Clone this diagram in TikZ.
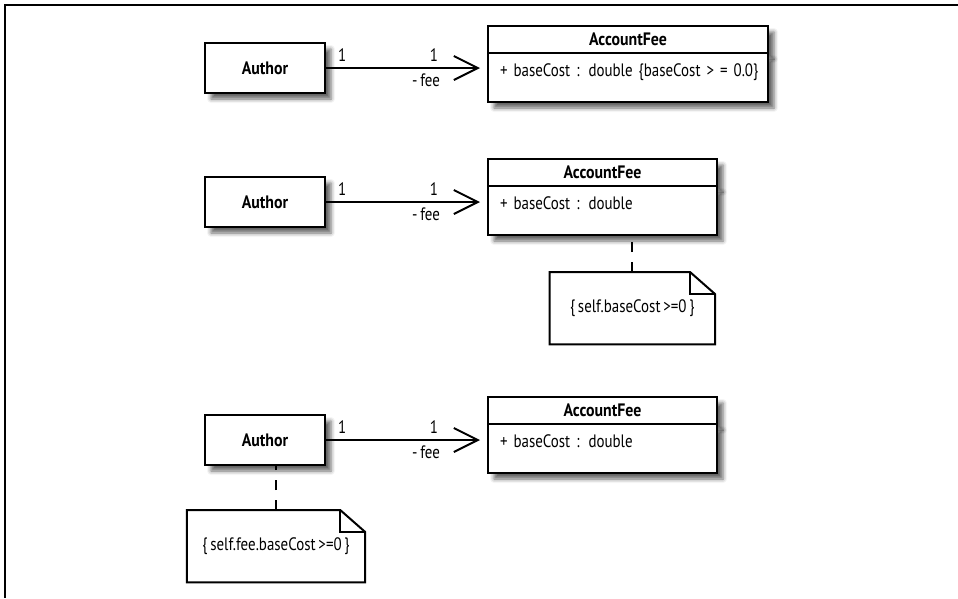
\documentclass[tikz,border=0pt]{standalone}
\usepackage{fontspec}
\setmainfont[FakeStretch=0.83,WordSpace=0.7,BoldFeatures={FakeStretch=0.88}]{PT Sans}
\usetikzlibrary{arrows.meta,positioning,shadows.blur}

\begin{document}
\begin{tikzpicture}[x=1pt,y=-1pt,font=\fontsize{18}{21}\selectfont,
  cls/.style={draw,line width=2pt,outer sep=0pt,fill=white,
    blur shadow={shadow xshift=6pt,shadow yshift=-6pt,shadow blur radius=4pt,shadow opacity=60}},
  author/.style={cls,minimum width=120pt,minimum height=50pt,font=\fontsize{18}{21}\selectfont\bfseries},
  hdr/.style={cls,minimum height=27pt,inner sep=0pt,font=\fontsize{18}{21}\selectfont\bfseries},
  attr/.style={cls,inner xsep=12pt,inner ysep=3pt,text height=20pt,text depth=23pt,align=left},
  note/.style={minimum height=72pt,inner sep=2pt},
  assoc/.style={line width=2pt,-{Straight Barb[length=24pt,width=24pt]},shorten >=8pt},
  anchorline/.style={line width=2pt,dash pattern=on 10pt off 10pt},
  lbl/.style={inner sep=2pt}]
  \useasboundingbox (0,0) rectangle (958,598);
  \draw[line width=2pt] (958,5) -- (5,5) -- (5,598);

  % authors
  \node[author,anchor=north west] (a1) at (205,43) {Author};
  \node[author,anchor=north west] (a2) at (205,177) {Author};
  \node[author,anchor=north west] (a3) at (205,415) {Author};

  % AccountFee classes
  \node[hdr,minimum width=280pt,anchor=north west] (fee1) at (488,26) {AccountFee};
  \node[attr,text width=256pt,below=0pt of fee1] (attr1) {\mbox{+ baseCost : double \{baseCost > = 0.0\}}};
  \node[hdr,minimum width=229pt,anchor=north west] (fee2) at (488,159) {AccountFee};
  \node[attr,text width=205pt,below=0pt of fee2] (attr2) {+ baseCost : double};
  \node[hdr,minimum width=229pt,anchor=north west] (fee3) at (488,397) {AccountFee};
  \node[attr,text width=205pt,below=0pt of fee3] (attr3) {+ baseCost : double};

  \foreach \i in {1,2,3}{
    \draw[assoc] (a\i) -- (a\i -| attr\i.west)
      node[lbl,pos=0,anchor=south west,xshift=10pt,yshift=4pt] {1}
      node[lbl,pos=1,anchor=south east,xshift=-47pt,yshift=4pt] {1}
      node[lbl,pos=1,anchor=north east,xshift=-45pt,yshift=-3pt] {- fee};
  }

  % notes
  \node[note,minimum width=165pt,below=37pt of attr2.south east,anchor=north east,xshift=-2pt] (n2) {\{ self.baseCost >=0 \}};
  \node[note,minimum width=178pt,below=45pt of a3,xshift=11pt] (n3) {\{ self.fee.baseCost >=0 \}};
  \foreach \n in {n2,n3}{
    \draw[line width=2pt] (\n.north west) -- ([xshift=-25pt]\n.north east) -- ([yshift=-22pt]\n.north east)
      -- (\n.south east) -- (\n.south west) -- cycle;
    \draw[line width=2pt] ([xshift=-25pt]\n.north east) |- ([yshift=-22pt]\n.north east);
  }
  \draw[anchorline] (n2.north) -- (n2.north |- attr2.south);
  \draw[anchorline] (n3.north) -- (n3.north |- a3.south);
\end{tikzpicture}
\end{document}
